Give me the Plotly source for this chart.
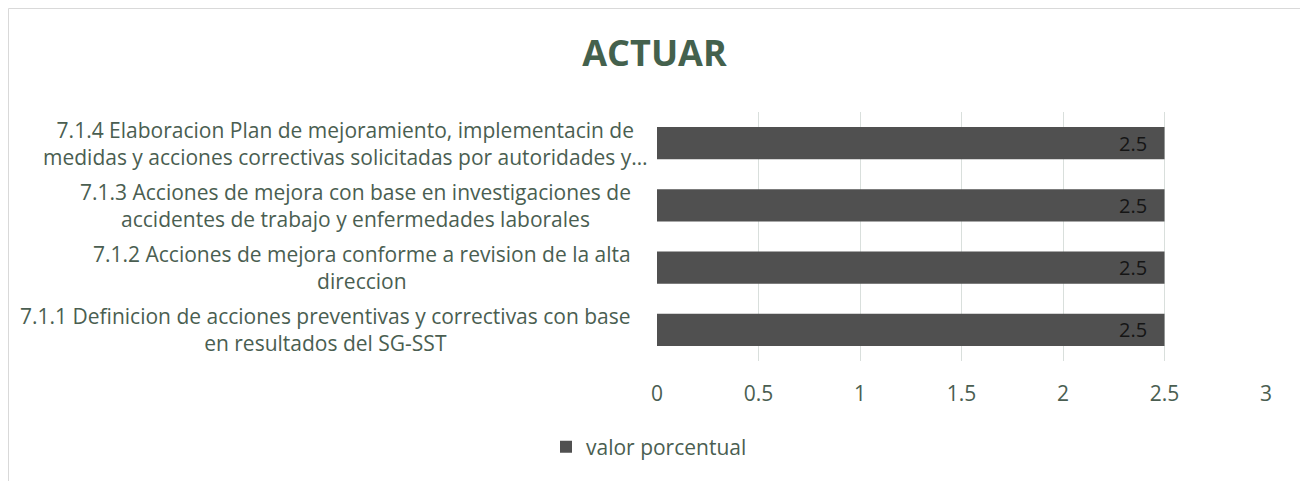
import plotly.graph_objects as go

categories = [
    "7.1.1 Definicion de acciones preventivas y correctivas con base<br>en resultados del SG-SST",
    "7.1.2 Acciones de mejora conforme a revision de la alta<br>direccion",
    "7.1.3 Acciones de mejora con base en investigaciones de<br>accidentes de trabajo y enfermedades laborales",
    "7.1.4 Elaboracion Plan de mejoramiento, implementacin de<br>medidas y acciones correctivas solicitadas por autoridades y…",
]
values = [2.5, 2.5, 2.5, 2.5]
series_name = "valor porcentual"
x_ticks = [0, 0.5, 1, 1.5, 2, 2.5, 3]
title = "ACTUAR"

FONT = "Open Sans, Liberation Sans, sans-serif"
TXT = "#4a5e51"

W, H = 1308, 481
L, R, T, B = 649, 50, 104, 128
PW = W - L - R
PH = H - T - B

fig = go.Figure()
fig.add_trace(go.Bar(
    y=categories, x=values, orientation="h", name=series_name,
    marker=dict(color="#505050", line=dict(width=0)),
    width=0.515, showlegend=True, hoverinfo="x+y",
))

# value labels inside bar ends
for c, v in zip(categories, values):
    fig.add_annotation(x=v, xref="x", y=c, yref="y", text=f"{v:g}",
                       showarrow=False, xanchor="right", yanchor="middle", xshift=-16,
                       font=dict(size=20, color="#151515", family=FONT))

# category labels (centered lines, block right-aligned; truncated label sits slightly further right)
label_shifts = [0, 0, 0, 17]
for c, s in zip(categories, label_shifts):
    fig.add_annotation(x=-24 / PW, xref="paper", y=c, yref="y", text=c, xshift=s,
                       showarrow=False, xanchor="right", yanchor="middle",
                       align="center", font=dict(size=21, color=TXT, family=FONT))

fig.update_layout(
    width=W, height=H,
    paper_bgcolor="white", plot_bgcolor="white",
    margin=dict(l=L, r=R, t=T, b=B),
    title=dict(text=f"<b>{title}</b>", x=646.5 / W, xref="container",
               xanchor="center", y=1 - 45.5 / H, yanchor="middle",
               font=dict(size=36, color="#44614d", family=FONT)),
    xaxis=dict(range=[0, 3], tickvals=x_ticks, ticktext=[f"{t:g}" for t in x_ticks],
               showgrid=True, gridcolor="#d9dfdc", gridwidth=1, zeroline=False,
               showline=False, tickfont=dict(size=21, color=TXT, family=FONT), ticks="",
               ticklabelstandoff=18),
    yaxis=dict(showticklabels=False, showgrid=False, zeroline=False, showline=False,
               categoryorder="array", categoryarray=categories, range=[-0.5, 3.5]),
    legend=dict(orientation="h", x=(641 - L) / PW, xanchor="center",
                y=-(439 - (T + PH)) / PH, yanchor="middle",
                font=dict(size=21, color=TXT, family=FONT), itemwidth=30),
    bargap=0.485,
    shapes=[dict(type="rect", xref="paper", yref="paper",
                 x0=(0.5 - L) / PW, x1=(1294 - L) / PW,
                 y0=-(B + 20) / PH, y1=1 + (T - 0.5) / PH,
                 line=dict(color="#d9d9d9", width=1),
                 fillcolor="rgba(0,0,0,0)", layer="below")],
)
fig.write_html("out.html")
